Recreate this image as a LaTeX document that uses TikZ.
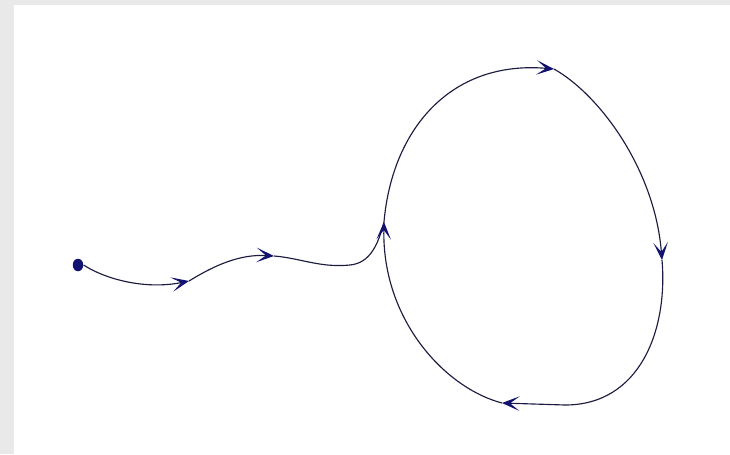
\documentclass[tikz,border=0pt]{standalone}
\usetikzlibrary{arrows.meta}
\usetikzlibrary{shapes.geometric}
\definecolor{bggrey}{RGB}{233,233,233}
\definecolor{pathnavy}{RGB}{28,28,64}
\definecolor{tipnavy}{RGB}{18,18,112}
\tikzset{
  flow/.style={draw=pathnavy, line width=0.65pt},
  tipped/.style={flow, -{Stealth[length=3.5mm, width=2.9mm, inset=1.9mm, color=tipnavy, fill=tipnavy]}},
  startdot/.style={ellipse, fill=tipnavy, minimum width=2.1mm, minimum height=2.5mm, inner sep=0pt}
}
\begin{document}
\begin{tikzpicture}[x=0.02cm, y=-0.02cm]
  \fill[bggrey] (0,0) rectangle (730,454);
  \fill[white] (14,5) rectangle (730,454);
  \useasboundingbox (0,0) rectangle (730,454);
  \node[startdot] (s) at (78,265) {};
  \coordinate (a1) at (189,281);
  \coordinate (a2) at (274,256);
  \coordinate (j) at (384,222);
  \coordinate (t) at (554,69);
  \coordinate (r) at (662,260);
  \coordinate (f) at (565,405);
  \coordinate (b) at (502,403);
  \draw[tipped] (s.east) .. controls (105,279) and (145,290) .. (a1);
  \draw[tipped] (a1) .. controls (215,265) and (240,254) .. (a2);
  \draw[flow] (a2) .. controls (300,258) and (320,268) .. (350,265)
                   .. controls (370,263) and (378,245) .. (j);
  \draw[tipped] (j) .. controls (392,130) and (450,60) .. (t);
  \draw[tipped] (t) .. controls (600,95) and (655,170) .. (r);
  \draw[flow] (r) .. controls (668,330) and (640,405) .. (f);
  \draw[tipped] (f) -- (b);
  \draw[tipped] (b) .. controls (445,388) and (382,320) .. (j);
\end{tikzpicture}
\end{document}
